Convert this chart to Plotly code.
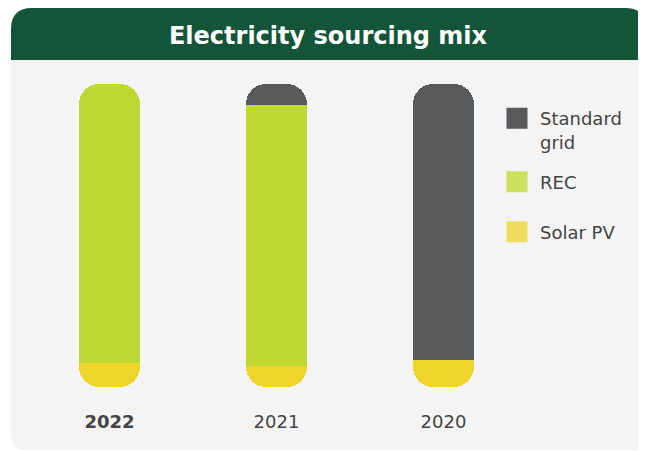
import plotly.graph_objects as go

# ---- data ----
years = ["2022", "2021", "2020"]
year_labels = ["<b>2022</b>", "2021", "2020"]
solar_pv = [8, 7, 9]
rec = [92, 86, None]
standard_grid = [None, 7, 91]

# ---- styling ----
W, H = 646, 451
OFF = 8  # page body margin of the browser
L, R, T, B = 18, 127, 76, 72  # figure-space margins
PW, PH = W - L - R, H - T - B

C_GRID = "#58595b"
C_REC = "#bfd733"
C_SOLAR = "#eed42b"
C_GRID_LEG = "#58595b"
C_REC_LEG = "#cddf5e"
C_SOLAR_LEG = "#f1dc5f"
C_HEADER = "#14553a"
C_BODY = "#f4f4f4"
TXT = "#444444"
FONT = "DejaVu Sans"
CLEAR = "rgba(0,0,0,0)"


def px(x):  # screen pixel -> paper x
    return (x - OFF - L) / PW


def py(y):  # screen pixel -> paper y
    return (H - B - (y - OFF)) / PH


def path(points):
    out = []
    for cmd, *pts in points:
        coords = " ".join(f"{px(a):.5f},{py(b):.5f}" for a, b in pts)
        out.append(f"{cmd}{coords}")
    return " ".join(out) + " Z"


fig = go.Figure()

# main stack (rounded top): transparent solar offset, REC, grid
fig.add_trace(go.Bar(x=years, y=solar_pv, marker=dict(color=CLEAR, line=dict(width=0)),
                     showlegend=False, hoverinfo="skip"))
fig.add_trace(go.Bar(x=years, y=rec, name="REC", marker=dict(color=C_REC, line=dict(width=0)),
                     showlegend=False))
fig.add_trace(go.Bar(x=years, y=standard_grid, name="Standard grid",
                     marker=dict(color=C_GRID, line=dict(width=0)), showlegend=False))
# reversed stack (rounded bottom): transparent grid + REC offsets, then solar
fig.add_trace(go.Bar(x=years, y=standard_grid, yaxis="y2", marker=dict(color=CLEAR, line=dict(width=0)),
                     showlegend=False, hoverinfo="skip"))
fig.add_trace(go.Bar(x=years, y=rec, yaxis="y2", marker=dict(color=CLEAR, line=dict(width=0)),
                     showlegend=False, hoverinfo="skip"))
fig.add_trace(go.Bar(x=years, y=solar_pv, yaxis="y2", name="Solar PV",
                     marker=dict(color=C_SOLAR, line=dict(width=0)), showlegend=False))

# legend entries
for name, col, lg in [("Standard<br>grid", C_GRID_LEG, "legend"),
                      ("REC", C_REC_LEG, "legend2"),
                      ("Solar PV", C_SOLAR_LEG, "legend3")]:
    fig.add_trace(go.Scatter(x=[None], y=[None], mode="markers", name=name, legend=lg,
                             marker=dict(symbol="square", size=16, color=col,
                                         line=dict(color=col, width=5))))

leg_common = dict(x=px(494), xanchor="left", yanchor="middle", bgcolor=CLEAR,
                  font=dict(family=FONT, size=18, color=TXT), itemwidth=36, valign="top",
                  borderwidth=0)

shapes = [
    dict(type="path", xref="paper", yref="paper", layer="below", line=dict(width=0),
         fillcolor=C_BODY,
         path=path([("M", (11, 50)), ("L", (11, 434)), ("Q", (11, 450), (27, 450)),
                    ("L", (670, 450)), ("L", (670, 50))])),
    dict(type="path", xref="paper", yref="paper", layer="below", line=dict(width=0),
         fillcolor=C_HEADER,
         path=path([("M", (11, 60)), ("L", (11, 29)), ("Q", (11, 8), (32, 8)),
                    ("L", (625, 8)), ("Q", (646, 8), (646, 29)), ("L", (646, 60))])),
]

fig.update_layout(
    width=W, height=H,
    margin=dict(l=L, r=R, t=T, b=B),
    paper_bgcolor="white", plot_bgcolor=CLEAR,
    barmode="stack", bargap=0.635, barcornerradius=20,
    title=dict(text="<b>Electricity sourcing mix</b>", x=(328 - OFF) / W, xref="container",
               xanchor="center", y=1 - (36 - OFF) / H, yref="container", yanchor="middle",
               font=dict(family=FONT, size=24, color="white")),
    font=dict(family=FONT, color=TXT),
    shapes=shapes,
    legend=dict(leg_common, y=py(130)),
    legend2=dict(leg_common, y=py(182)),
    legend3=dict(leg_common, y=py(232)),
    xaxis=dict(tickvals=years, ticktext=year_labels, showgrid=False, zeroline=False, showline=False,
               ticks="", tickfont=dict(family=FONT, size=18, color=TXT), ticklabelstandoff=22,
               range=[-0.5, 2.5], fixedrange=True),
    yaxis=dict(range=[0, 100], visible=False, showgrid=False, zeroline=False, fixedrange=True),
    yaxis2=dict(range=[100, 0], overlaying="y", visible=False, showgrid=False, zeroline=False,
                fixedrange=True),
    showlegend=True,
)

fig.write_html("out.html")
